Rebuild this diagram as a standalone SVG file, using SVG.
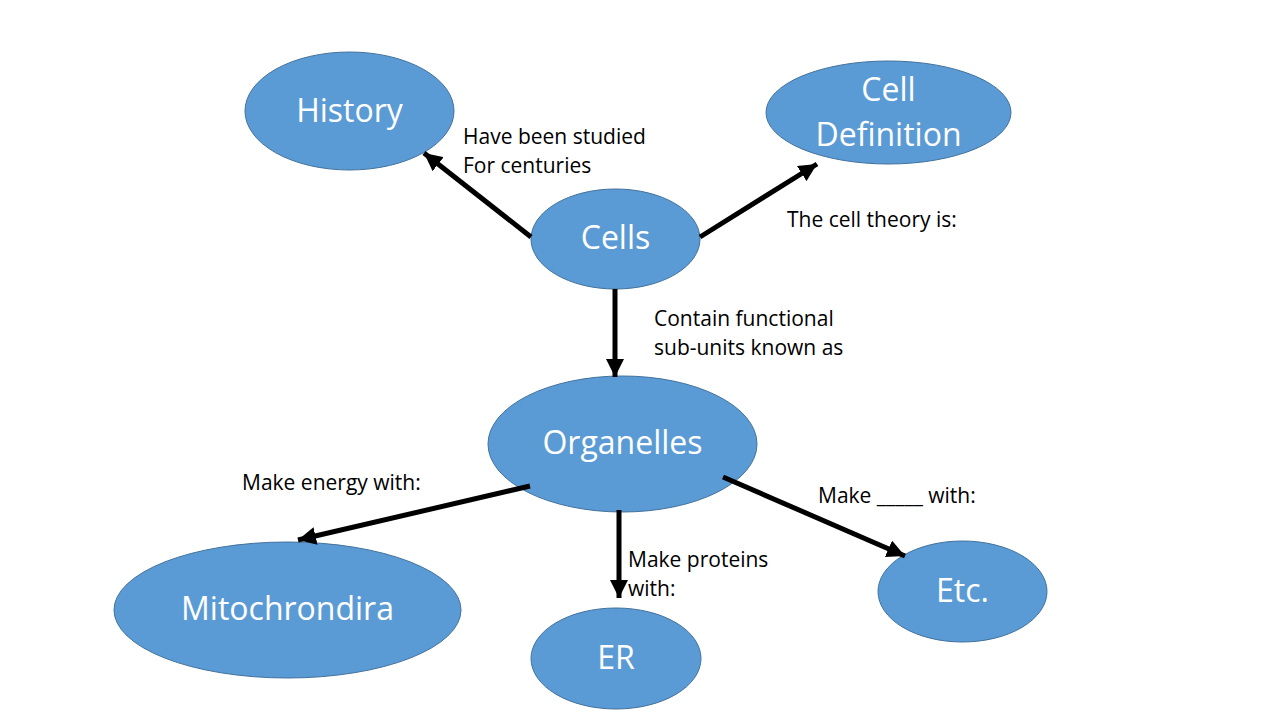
<svg xmlns="http://www.w3.org/2000/svg" width="1280" height="720" viewBox="0 0 1280 720">
<style>
.node{fill:#5B9BD5;stroke:#41719C;stroke-width:1}
.nl{font-family:"Open Sans","Liberation Sans",sans-serif;font-size:32px;fill:#fff;text-anchor:middle}
.lbl{font-family:"Open Sans","Liberation Sans",sans-serif;font-size:21px;fill:#000}
.conn line{stroke:#000;stroke-width:5;marker-end:url(#ah)}
</style>
<defs>
<marker id="ah" markerUnits="userSpaceOnUse" markerWidth="20" markerHeight="18" refX="18" refY="9" orient="auto">
<path d="M0,0 L18,9 L0,18 Z" fill="#000"/>
</marker>
</defs>
<rect width="1280" height="720" fill="#fff"/>
<g id="history"><ellipse class="node" cx="349.5" cy="111" rx="104.5" ry="59"/><text class="nl" x="349.5" y="122">History</text></g>
<g id="celldef"><ellipse class="node" cx="888.5" cy="112.5" rx="122.5" ry="51.5"/><text class="nl" x="888.5" y="101">Cell</text><text class="nl" x="888.5" y="146">Definition</text></g>
<g id="cells"><ellipse class="node" cx="615.5" cy="239" rx="84.5" ry="50"/><text class="nl" x="615.5" y="249">Cells</text></g>
<g id="organelles"><ellipse class="node" cx="622.5" cy="444" rx="134.5" ry="68"/><text class="nl" x="622.5" y="454">Organelles</text></g>
<g id="mito"><ellipse class="node" cx="287.5" cy="610" rx="173.5" ry="68"/><text class="nl" x="287.5" y="620">Mitochrondira</text></g>
<g id="er"><ellipse class="node" cx="616" cy="658.5" rx="85" ry="50.5"/><text class="nl" x="616" y="669">ER</text></g>
<g id="etc"><ellipse class="node" cx="962.5" cy="591.5" rx="84.5" ry="50.5"/><text class="nl" x="962.5" y="602">Etc.</text></g>
<g class="conn" id="connectors">
<line x1="531" y1="237" x2="424" y2="153"/>
<line x1="700" y1="237" x2="817" y2="164"/>
<line x1="615" y1="289" x2="615" y2="377"/>
<line x1="530" y1="486" x2="298" y2="540"/>
<line x1="619" y1="510" x2="619" y2="598"/>
<line x1="723" y1="477" x2="905" y2="556"/>
</g>
<g id="labels">
<text class="lbl" x="463" y="144">Have been studied</text>
<text class="lbl" x="463" y="173">For centuries</text>
<text class="lbl" x="787" y="227">The cell theory is:</text>
<text class="lbl" x="654" y="326">Contain functional</text>
<text class="lbl" x="654" y="355">sub-units known as</text>
<text class="lbl" x="242" y="490">Make energy with:</text>
<text class="lbl" x="818" y="503">Make _____ with:</text>
<text class="lbl" x="628" y="567">Make proteins</text>
<text class="lbl" x="628" y="596">with:</text>
</g>
</svg>
